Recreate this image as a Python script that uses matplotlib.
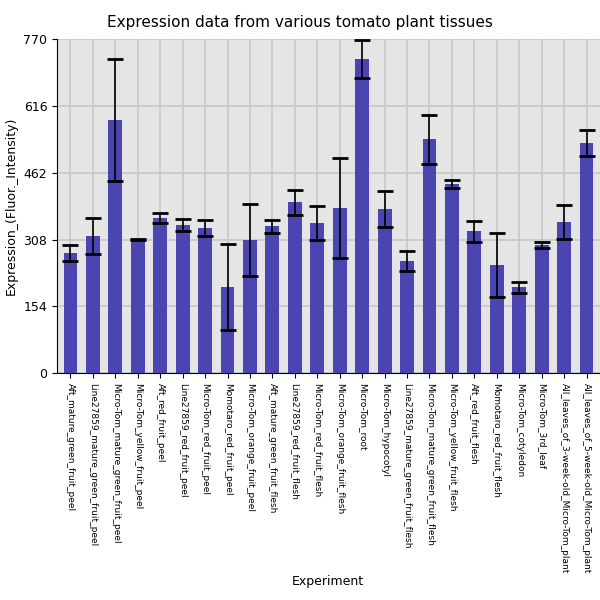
import matplotlib
matplotlib.use("Agg")
import matplotlib.pyplot as plt
import numpy as np

tissues = ["Aft_mature_green_fruit_peel", "Line27859_mature_green_fruit_peel",
           "Micro-Tom_mature_green_fruit_peel", "Micro-Tom_yellow_fruit_peel",
           "Aft_red_fruit_peel", "Line27859_red_fruit_peel", "Micro-Tom_red_fruit_peel",
           "Momotaro_red_fruit_peel", "Micro-Tom_orange_fruit_peel",
           "Aft_mature_green_fruit_flesh", "Line27859_red_fruit_flesh",
           "Micro-Tom_red_fruit_flesh", "Micro-Tom_orange_fruit_flesh", "Micro-Tom_root",
           "Micro-Tom_hypocotyl", "Line27859_mature_green_fruit_flesh",
           "Micro-Tom_mature_green_fruit_flesh", "Micro-Tom_yellow_fruit_flesh",
           "Aft_red_fruit_flesh", "Momotaro_red_fruit_flesh", "Micro-Tom_cotyledon",
           "Micro-Tom_3rd_leaf", "All_leaves_of_3-week-old_Micro-Tom_plant",
           "All_leaves_of_5-week-old_Micro-Tom_plant"]
means = [277, 316, 583, 308, 357, 341, 334, 198, 307, 339, 394, 346, 380, 724,
         378, 258, 539, 436, 327, 249, 198, 295, 348, 530]
errs = [19, 41, 140, 2, 12, 14, 19, 99, 83, 15, 29, 39, 115, 44,
        42, 23, 56, 10, 24, 74, 13, 7, 39, 30]

fig = plt.figure(figsize=(6, 6), dpi=100)
ax = fig.add_axes([0.095, 0.378, 0.905, 0.557])
ax.set_facecolor("#e5e5e5")
x = np.arange(len(tissues))
ax.bar(x, means, 0.62, color="#4b45b2", yerr=errs, capsize=6,
       error_kw=dict(ecolor="black", elinewidth=1.2, capthick=2), zorder=3)
ax.set_xlim(-0.6, len(tissues) - 0.4)
ax.set_ylim(0, 770)
ax.set_yticks([0, 154, 308, 462, 616, 770])
ax.set_xticks(x)
ax.set_xticklabels(tissues, rotation=-90, fontsize=6.5)
ax.tick_params(axis="y", labelsize=9)
ax.grid(color="#c8c8c8", linewidth=1.2, zorder=0)
for s in ["top", "right"]:
    ax.spines[s].set_visible(False)
ax.set_ylabel("Expression_(Fluor._Intensity)", fontsize=9)
fig.text(0.547, 0.025, "Experiment", fontsize=9, ha="center")
fig.suptitle("Expression data from various tomato plant tissues", fontsize=11, y=0.975)
fig.savefig("out.png", dpi=100)
